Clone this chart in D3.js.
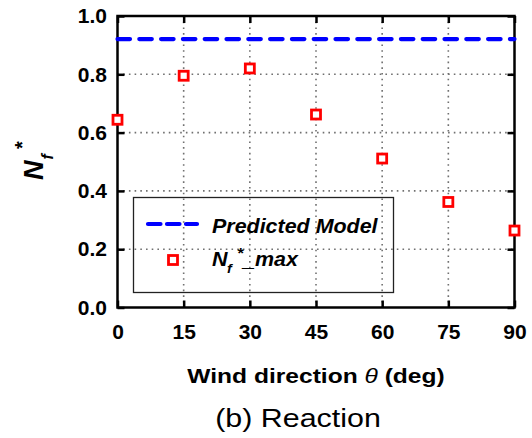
<!DOCTYPE html>
<html><head><meta charset="utf-8">
<script src="https://cdn.jsdelivr.net/npm/d3@7"></script>
<style>body{margin:0;background:#fff} svg{display:block}</style>
</head><body><svg id="c" width="532" height="438"></svg>
<script>
// ---- data ----
const angles = [0, 15, 30, 45, 60, 75, 90];
const nfMax = [0.644, 0.795, 0.82, 0.662, 0.511, 0.362, 0.264];
const predicted = [0.921, 0.921];
const predictedX = [0, 90];
const xTicks = [0, 15, 30, 45, 60, 75, 90];
const yTicks = [0, 0.2, 0.4, 0.6, 0.8, 1.0];
const xTickLabels = ["0", "15", "30", "45", "60", "75", "90"];
const yTickLabels = ["0.0", "0.2", "0.4", "0.6", "0.8", "1.0"];

const FONT = "'Liberation Sans', Arial, Helvetica, sans-serif";
const svg = d3.select("#c");
svg.append("rect").attr("width", 532).attr("height", 438).attr("fill", "#fff");

const m = {l: 117.5, r: 514.5, t: 16, b: 307.5};
const x = d3.scaleLinear().domain([0, 90]).range([m.l, m.r]);
const y = d3.scaleLinear().domain([0, 1]).range([m.b, m.t]);

// grid
const grid = svg.append("g").attr("stroke", "#707070").attr("stroke-width", 1.6)
  .attr("stroke-dasharray", "1.6,4.1").attr("fill", "none");
grid.selectAll("line.v").data(xTicks.slice(1, -1)).join("line").attr("class", "v")
  .attr("x1", d => x(d)).attr("x2", d => x(d)).attr("y1", y(1)).attr("y2", y(0));
grid.selectAll("line.h").data(yTicks.slice(1, -1)).join("line").attr("class", "h")
  .attr("y1", d => y(d)).attr("y2", d => y(d)).attr("x1", x(0)).attr("x2", x(90));

// axes (inward ticks on all sides)
function styleAxis(g) {
  g.select(".domain").remove();
  g.selectAll(".tick line").attr("stroke", "#000").attr("stroke-width", 2.5);
  g.selectAll(".tick text").attr("font-family", FONT).attr("font-weight", "bold")
    .attr("font-size", 21).attr("fill", "#000");
}
svg.append("g").attr("transform", `translate(0,${m.b})`)
  .call(d3.axisBottom(x).tickValues(xTicks).tickFormat((d, i) => xTickLabels[i])
    .tickSizeInner(-7).tickSizeOuter(0).tickPadding(16.5))
  .call(styleAxis);
svg.append("g").attr("transform", `translate(${m.l},0)`)
  .call(d3.axisLeft(y).tickValues(yTicks).tickFormat((d, i) => yTickLabels[i])
    .tickSizeInner(-7).tickSizeOuter(0).tickPadding(10.5))
  .call(styleAxis);
svg.append("g").attr("transform", `translate(0,${m.t})`)
  .call(d3.axisTop(x).tickValues(xTicks).tickFormat("")
    .tickSizeInner(-7).tickSizeOuter(0))
  .call(styleAxis);
svg.append("g").attr("transform", `translate(${m.r},0)`)
  .call(d3.axisRight(y).tickValues(yTicks).tickFormat("")
    .tickSizeInner(-7).tickSizeOuter(0))
  .call(styleAxis);

// frame
svg.append("rect").attr("x", m.l).attr("y", m.t).attr("width", m.r - m.l).attr("height", m.b - m.t)
  .attr("fill", "none").attr("stroke", "#000").attr("stroke-width", 2.5);

// predicted model line
svg.append("path")
  .datum(predictedX.map((d, i) => [d, predicted[i]]))
  .attr("d", d3.line().x(d => x(d[0])).y(d => y(d[1])))
  .attr("fill", "none").attr("stroke", "#0000ff").attr("stroke-width", 4.2)
  .attr("stroke-linecap", "round").attr("stroke-dasharray", "12.5,9.3");

// markers
const S = 9;
svg.selectAll("rect.pt").data(angles).join("rect").attr("class", "pt")
  .attr("x", d => x(d) - S / 2).attr("y", (d, i) => y(nfMax[i]) - S / 2)
  .attr("width", S).attr("height", S)
  .attr("fill", "#fff").attr("stroke", "#ff0000").attr("stroke-width", 2.8);

// legend
const lg = svg.append("g");
lg.append("rect").attr("x", 133.5).attr("y", 197.5).attr("width", 260).attr("height", 95)
  .attr("fill", "none").attr("stroke", "#222").attr("stroke-width", 1.3);
lg.append("line").attr("x1", 148).attr("x2", 197).attr("y1", 224).attr("y2", 224)
  .attr("stroke", "#0000ff").attr("stroke-width", 4.2).attr("stroke-linecap", "round")
  .attr("stroke-dasharray", "12.5,6.5");
lg.append("rect").attr("x", 173 - S / 2).attr("y", 260 - S / 2).attr("width", S).attr("height", S)
  .attr("fill", "#fff").attr("stroke", "#ff0000").attr("stroke-width", 2.8);
function stx(g, px, py, sx, txt, size, weight, style, anchor) {
  return g.append("text").attr("transform", `translate(${px},${py}) scale(${sx},1)`)
    .attr("font-family", FONT).attr("font-size", size).attr("font-weight", weight)
    .attr("font-style", style).attr("text-anchor", anchor || "start").attr("fill", "#000").text(txt);
}
stx(lg, 212, 232.7, 1.1, "Predicted Model", 19.5, "bold", "italic");
stx(lg, 212, 266, 1.1, "N", 19.5, "bold", "italic");
stx(lg, 227, 273, 1.1, "f", 13, "bold", "italic");
stx(lg, 237.5, 257.5, 1.1, "*", 15, "bold", "normal");
stx(lg, 243, 266, 1.1, "_max", 19.5, "bold", "italic");

// y label
const yl = svg.append("g").attr("transform", "translate(43,180) rotate(-90)");
yl.append("text").attr("x", 0).attr("y", 0).attr("font-family", FONT).attr("font-size", 27)
  .attr("font-weight", "bold").attr("font-style", "italic").text("N");
yl.append("text").attr("x", 20.5).attr("y", 10).attr("font-family", FONT).attr("font-size", 16)
  .attr("font-weight", "bold").attr("font-style", "italic").text("f");
yl.append("text").attr("x", 31).attr("y", -14).attr("font-family", FONT).attr("font-size", 20)
  .attr("font-weight", "bold").text("*");

// x title
const xt = stx(svg, 316, 383, 1.17, "", 21, "bold", "normal", "middle");
xt.append("tspan").text("Wind direction ");
xt.append("tspan").attr("font-style", "italic").attr("font-weight", "normal").text("θ");
xt.append("tspan").text(" (deg)");

// caption
stx(svg, 298, 427, 1.17, "(b) Reaction", 26, "normal", "normal", "middle");
</script></body></html>
